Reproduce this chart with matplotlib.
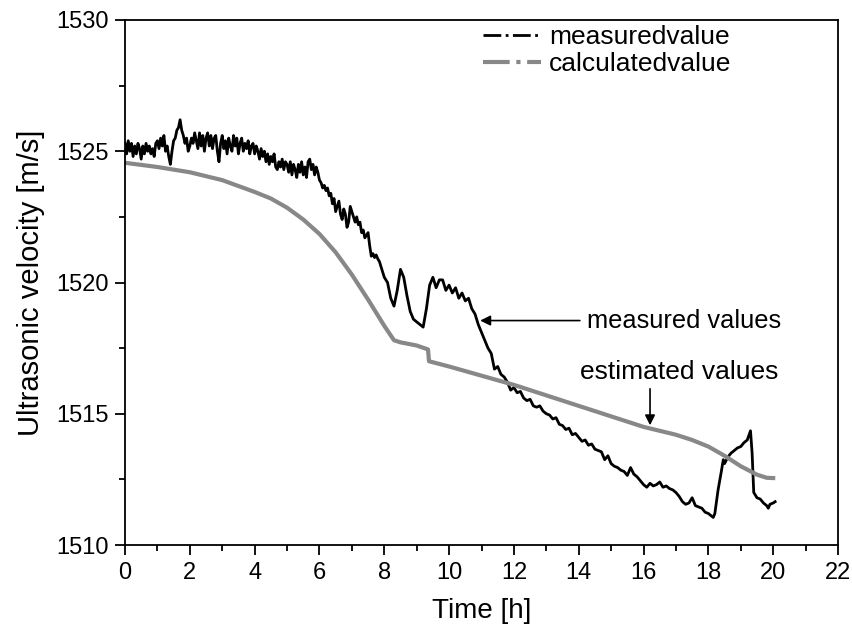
import matplotlib
matplotlib.use("Agg")
import matplotlib.pyplot as plt
from matplotlib.lines import Line2D
from matplotlib.ticker import MultipleLocator

plt.rcParams['font.family'] = ['Liberation Sans', 'DejaVu Sans']

# measured ultrasonic velocity (black trace)
t_meas = [
    0.00, 0.05, 0.10, 0.15, 0.20, 0.25, 0.30, 0.35, 0.40, 0.45,
    0.50, 0.55, 0.60, 0.65, 0.70, 0.75, 0.80, 0.85, 0.90, 0.95,
    1.00, 1.05, 1.10, 1.15, 1.20, 1.25, 1.30, 1.35, 1.40, 1.45,
    1.50, 1.55, 1.60, 1.65, 1.70, 1.75, 1.80, 1.85, 1.90, 1.95,
    2.00, 2.05, 2.10, 2.15, 2.20, 2.25, 2.30, 2.35, 2.40, 2.45,
    2.50, 2.55, 2.60, 2.65, 2.70, 2.75, 2.80, 2.85, 2.90, 2.95,
    3.00, 3.05, 3.10, 3.15, 3.20, 3.25, 3.30, 3.35, 3.40, 3.45,
    3.50, 3.55, 3.60, 3.65, 3.70, 3.75, 3.80, 3.85, 3.90, 3.95,
    4.00, 4.05, 4.10, 4.15, 4.20, 4.25, 4.30, 4.35, 4.40, 4.45,
    4.50, 4.55, 4.60, 4.65, 4.70, 4.75, 4.80, 4.85, 4.90, 4.95,
    5.00, 5.05, 5.10, 5.15, 5.20, 5.25, 5.30, 5.35, 5.40, 5.45,
    5.50, 5.55, 5.60, 5.65, 5.70, 5.75, 5.80, 5.85, 5.90, 5.95,
    6.00, 6.05, 6.10, 6.15, 6.20, 6.25, 6.30, 6.35, 6.40, 6.45,
    6.50, 6.55, 6.60, 6.65, 6.70, 6.75, 6.80, 6.85, 6.90, 6.95,
    7.00, 7.05, 7.10, 7.15, 7.20, 7.25, 7.30, 7.35, 7.40, 7.45,
    7.50, 7.55, 7.60, 7.65, 7.70, 7.75, 7.80, 7.85, 7.90, 7.95,
    8.0, 8.1, 8.2, 8.3, 8.4, 8.5, 8.6, 8.7, 8.8, 8.9,
    9.0, 9.1, 9.2, 9.3, 9.4, 9.5, 9.6, 9.7, 9.8, 9.9,
    10.0, 10.1, 10.2, 10.3, 10.4, 10.5, 10.6, 10.7, 10.8, 10.9,
    11.0, 11.1, 11.2, 11.3, 11.4, 11.5, 11.6, 11.7, 11.8, 11.9,
    12.0, 12.1, 12.2, 12.3, 12.4, 12.5, 12.6, 12.7, 12.8, 12.9,
    13.0, 13.1, 13.2, 13.3, 13.4, 13.5, 13.6, 13.7, 13.8, 13.9,
    14.0, 14.1, 14.2, 14.3, 14.4, 14.5, 14.6, 14.7, 14.8, 14.9,
    15.0, 15.1, 15.2, 15.3, 15.4, 15.5, 15.6, 15.7, 15.8, 15.9,
    16.0, 16.1, 16.2, 16.3, 16.4, 16.5, 16.6, 16.7, 16.8, 16.9,
    17.0, 17.1, 17.2, 17.3, 17.4, 17.5, 17.6, 17.7, 17.8, 17.9,
    18.0, 18.1, 18.15, 18.2, 18.3, 18.4, 18.46, 18.5, 18.6, 18.7,
    18.8, 18.9, 19.0, 19.1, 19.2, 19.3, 19.35, 19.4, 19.5, 19.6,
    19.7, 19.8, 19.85, 19.9, 20.0, 20.06,
]
v_meas = [
    1525.3, 1524.9, 1525.4, 1525.0, 1525.3, 1524.8, 1525.2, 1524.9, 1525.3, 1525.1,
    1524.7, 1525.2, 1524.9, 1525.3, 1525.0, 1525.2, 1524.9, 1525.1, 1524.8, 1525.3,
    1525.4, 1525.1, 1525.5, 1525.2, 1525.6, 1525.0, 1525.2, 1524.8, 1524.5, 1525.0,
    1525.4, 1525.5, 1525.8, 1525.9, 1526.2, 1525.8, 1525.6, 1525.3, 1525.5, 1525.0,
    1525.2, 1525.5, 1525.3, 1525.7, 1525.4, 1525.1, 1525.7, 1525.2, 1525.6, 1525.0,
    1525.5, 1525.7, 1525.2, 1525.6, 1525.1, 1525.5, 1525.6, 1525.0, 1524.6, 1525.3,
    1525.6, 1525.1, 1525.4, 1524.9, 1525.5, 1525.2, 1525.0, 1525.6, 1525.2, 1525.5,
    1524.9, 1525.3, 1525.5, 1525.0, 1525.3, 1525.1, 1525.4, 1524.9, 1525.2, 1525.3,
    1524.9, 1525.2, 1525.0, 1524.7, 1525.1, 1524.8, 1525.0, 1524.6, 1524.9, 1524.5,
    1524.8, 1524.6, 1524.9, 1524.4, 1524.3, 1524.6, 1524.4, 1524.7, 1524.3, 1524.6,
    1524.5, 1524.2, 1524.6, 1524.1, 1524.5, 1524.3, 1524.0, 1524.5, 1524.2, 1524.6,
    1524.1, 1524.4, 1524.0, 1524.6, 1524.7, 1524.3, 1524.5, 1524.1, 1524.4, 1524.2,
    1523.9, 1523.8, 1523.6, 1523.7, 1523.5, 1523.6, 1523.3, 1523.4, 1523.0, 1523.2,
    1522.7, 1522.9, 1523.1, 1522.6, 1522.4, 1522.8, 1522.6, 1522.1, 1522.3, 1522.9,
    1522.7, 1522.5, 1522.3, 1522.5, 1522.2, 1522.3, 1521.9, 1522.0, 1521.7, 1521.8,
    1521.9, 1521.4, 1521.0, 1521.1, 1520.95, 1521.05, 1520.9, 1520.8, 1520.6, 1520.4,
    1520.2, 1520.0, 1519.4, 1519.1, 1519.7, 1520.5, 1520.2, 1519.5, 1518.9, 1518.6,
    1518.5, 1518.4, 1518.3, 1519.0, 1519.9, 1520.2, 1519.8, 1520.1, 1520.1, 1519.7,
    1519.9, 1519.6, 1519.8, 1519.4, 1519.6, 1519.3, 1519.4, 1519.0, 1518.8, 1518.4,
    1518.1, 1517.8, 1517.5, 1517.3, 1516.7, 1516.8, 1516.5, 1516.4, 1516.2, 1515.9,
    1516.0, 1515.8, 1515.85, 1515.6, 1515.5, 1515.55, 1515.3, 1515.25, 1515.3, 1515.1,
    1515.0, 1514.95, 1514.8, 1514.85, 1514.6, 1514.55, 1514.4, 1514.45, 1514.2, 1514.25,
    1514.1, 1513.95, 1514.0, 1513.8, 1513.85, 1513.65, 1513.6, 1513.55, 1513.25, 1513.4,
    1513.1, 1513.0, 1512.95, 1512.85, 1512.8, 1512.65, 1512.95, 1512.7, 1512.6, 1512.45,
    1512.3, 1512.2, 1512.35, 1512.25, 1512.3, 1512.4, 1512.2, 1512.25, 1512.15, 1512.1,
    1512.0, 1511.85, 1511.65, 1511.55, 1511.6, 1511.8, 1511.5, 1511.45, 1511.4, 1511.25,
    1511.2, 1511.1, 1511.05, 1511.2, 1512.1, 1512.8, 1513.25, 1513.1, 1513.35, 1513.5,
    1513.6, 1513.7, 1513.75, 1513.9, 1514.0, 1514.35, 1513.5, 1512.0, 1511.8, 1511.75,
    1511.6, 1511.5, 1511.4, 1511.55, 1511.6, 1511.65,
]

# calculated / estimated velocity (grey curve)
t_calc = [0.0, 1.0, 2.0, 3.0, 4.0, 4.5, 5.0, 5.5, 6.0, 6.5, 7.0, 7.5, 8.0,
          8.3, 8.5, 9.0, 9.35, 9.38, 10.0, 11.0, 12.0, 13.0, 14.0, 15.0,
          16.0, 17.0, 17.5, 18.0, 18.5, 19.0, 19.5, 19.8, 20.0]
v_calc = [1524.56, 1524.4, 1524.2, 1523.9, 1523.45, 1523.2, 1522.85, 1522.4,
          1521.85, 1521.15, 1520.3, 1519.35, 1518.35, 1517.8, 1517.72, 1517.6,
          1517.45, 1517.0, 1516.8, 1516.45, 1516.1, 1515.7, 1515.3, 1514.9,
          1514.5, 1514.2, 1514.0, 1513.75, 1513.4, 1513.0, 1512.68, 1512.56,
          1512.55]

fig = plt.figure(figsize=(8.53, 6.32), dpi=100)
ax = fig.add_axes([125 / 853, 1 - 545 / 632, (838 - 125) / 853, (545 - 20) / 632])

ax.plot(t_meas, v_meas, color='black', lw=2.0)
ax.plot(t_calc, v_calc, color='#888888', lw=3.0)

ax.set_xlim(0, 22)
ax.set_ylim(1510, 1530)
ax.xaxis.set_major_locator(MultipleLocator(2))
ax.xaxis.set_minor_locator(MultipleLocator(1))
ax.yaxis.set_major_locator(MultipleLocator(5))
ax.yaxis.set_minor_locator(MultipleLocator(2.5))
ax.tick_params(which='both', direction='out', width=1.3, labelsize=17,
               top=False, right=False)
ax.tick_params(which='major', length=7, pad=5)
ax.tick_params(which='minor', length=4)
for s in ax.spines.values():
    s.set_linewidth(1.3)

ax.set_xlabel('Time [h]', fontsize=20, labelpad=10)
ax.set_ylabel('Ultrasonic velocity [m/s]', fontsize=21, labelpad=8)

ax.annotate('measured values', xy=(10.96, 1518.55), xytext=(14.25, 1518.55),
            fontsize=18.3, va='center', ha='left',
            arrowprops=dict(arrowstyle='-|>', color='black', lw=1.2,
                            mutation_scale=15, shrinkA=3, shrinkB=0))
ax.text(14.05, 1516.6, 'estimated values', fontsize=19, va='center', ha='left')
ax.annotate('', xy=(16.2, 1514.56), xytext=(16.2, 1515.95),
            arrowprops=dict(arrowstyle='-|>', color='black', lw=1.2,
                            mutation_scale=15, shrinkA=0, shrinkB=0))

handles = [Line2D([], [], color='black', lw=2.0, ls='-.'),
           Line2D([], [], color='#888888', lw=3.0, ls='-.')]
ax.legend(handles, ['measuredvalue', 'calculatedvalue'], frameon=False,
          fontsize=19, loc='upper left', bbox_to_anchor=(0.48, 1.02),
          handlelength=2.2, handletextpad=0.3, labelspacing=0.1,
          borderaxespad=0.2)

fig.savefig('out.png', dpi=100)
